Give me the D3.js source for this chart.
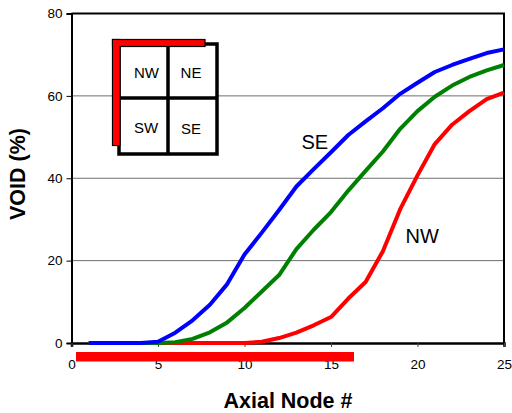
<!DOCTYPE html>
<html>
<head>
<meta charset="utf-8">
<script src="https://cdn.jsdelivr.net/npm/d3@7"></script>
<style>
  body { margin: 0; background: #fff; }
  text { font-family: Arial, "Liberation Sans", sans-serif; }
</style>
</head>
<body>
<div id="chart"></div>
<script>
// axial nodes 1..25
const nodes = d3.range(1, 26);
const seVoid = [0, 0, 0, 0, 0.3, 2.5, 5.5, 9.3, 14.3, 21.5, 26.8, 32.3, 38, 42.2, 46.3, 50.5, 53.8, 57, 60.5, 63.2, 65.8, 67.5, 69, 70.4, 71.3];
const midVoid = [0, 0, 0, 0, 0, 0.2, 1, 2.6, 5, 8.5, 12.5, 16.5, 22.8, 27.5, 31.8, 37, 41.8, 46.5, 52, 56.3, 59.8, 62.5, 64.6, 66.2, 67.5];
const nwVoid = [0, 0, 0, 0, 0, 0, 0, 0, 0, 0, 0.3, 1.2, 2.5, 4.3, 6.3, 10.8, 14.8, 22.3, 32.5, 40.7, 48.3, 53, 56.3, 59.2, 60.8];
const xTicks = [0, 5, 10, 15, 20, 25];
const yTicks = [0, 20, 40, 60, 80];
const gridTicks = [20, 40, 60];
const heatedRange = [0.26, 16.33];

const series = [
  {name: 'NW', values: nwVoid, color: '#ff0000'},
  {name: 'mid', values: midVoid, color: '#008000'},
  {name: 'SE', values: seVoid, color: '#0000ff'}
];

const W = 512, H = 413;
const margin = {top: 13.5, right: 8, bottom: 70, left: 71.5};

const svg = d3.select('#chart')
  .append('svg')
  .attr('width', W)
  .attr('height', H);

const x = d3.scaleLinear().domain([0, 25]).range([margin.left, W - margin.right]);
const y = d3.scaleLinear().domain([0, 80]).range([H - margin.bottom, margin.top]);

// gridlines
svg.append('g')
  .selectAll('line')
  .data(gridTicks)
  .join('line')
  .attr('x1', x(0)).attr('x2', x(25))
  .attr('y1', d => y(d)).attr('y2', d => y(d))
  .attr('stroke', '#6e6e6e')
  .attr('stroke-width', 1);

// frame top / right
svg.append('path')
  .attr('d', `M${x(0)},${y(80)}H${x(25)}V${y(0)}`)
  .attr('fill', 'none')
  .attr('stroke', '#000')
  .attr('stroke-width', 2);

// y axis
const yAxis = svg.append('g')
  .attr('transform', `translate(${x(0)},0)`)
  .call(d3.axisLeft(y).tickValues(yTicks).tickSize(5).tickPadding(4));
yAxis.select('.domain').attr('stroke-width', 2);
yAxis.selectAll('text').attr('font-size', 13.5).attr('fill', '#000');

// x axis
const xAxis = svg.append('g')
  .attr('transform', `translate(0,${y(0)})`)
  .call(d3.axisBottom(x).tickValues(xTicks).tickSize(4).tickPadding(12));
xAxis.select('.domain').attr('stroke-width', 2.5);
xAxis.selectAll('.tick line').attr('stroke', '#444');
xAxis.selectAll('text').attr('font-size', 13.5).attr('fill', '#000');

// red bar under the x axis
svg.append('rect')
  .attr('x', x(heatedRange[0]))
  .attr('y', y(0) + 9)
  .attr('width', x(heatedRange[1]) - x(heatedRange[0]))
  .attr('height', 9.5)
  .attr('fill', '#ff0000');

// curves
const line = d3.line()
  .x((d, i) => x(nodes[i]))
  .y(d => y(d));

svg.append('g')
  .selectAll('path')
  .data(series)
  .join('path')
  .attr('d', d => line(d.values))
  .attr('fill', 'none')
  .attr('stroke', d => d.color)
  .attr('stroke-width', 4)
  .attr('stroke-linejoin', 'round');

// curve labels
svg.append('text').attr('x', 301.5).attr('y', 149).attr('font-size', 20).text('SE');
svg.append('text').attr('x', 405.5).attr('y', 242.5).attr('font-size', 20).text('NW');

// inset quadrant map
const inset = svg.append('g').attr('transform', 'translate(119,44)');
inset.append('rect')
  .attr('x', 0).attr('y', 0).attr('width', 98).attr('height', 110)
  .attr('fill', '#fff').attr('stroke', '#000').attr('stroke-width', 3.5);
inset.append('line').attr('x1', 49).attr('x2', 49).attr('y1', 0).attr('y2', 110)
  .attr('stroke', '#000').attr('stroke-width', 3.5);
inset.append('line').attr('x1', 0).attr('x2', 98).attr('y1', 54).attr('y2', 54)
  .attr('stroke', '#000').attr('stroke-width', 3.5);
inset.append('rect')
  .attr('x', 10.5 - 17).attr('y', -4.5).attr('width', 7.5).attr('height', 106)
  .attr('fill', '#ff0000').attr('stroke', '#000').attr('stroke-width', 1.2);
inset.append('rect')
  .attr('x', -6.5).attr('y', -4.5).attr('width', 92.5).attr('height', 7)
  .attr('fill', '#ff0000').attr('stroke', '#000').attr('stroke-width', 1.2);
inset.append('rect')
  .attr('x', -5.9).attr('y', -3.9).attr('width', 6.3).attr('height', 104.8)
  .attr('fill', '#ff0000');

const quads = [
  {t: 'NW', cx: 27.5, cy: 34},
  {t: 'NE', cx: 72, cy: 34},
  {t: 'SW', cx: 27, cy: 89},
  {t: 'SE', cx: 72, cy: 90}
];
inset.selectAll('text.q')
  .data(quads)
  .join('text')
  .attr('class', 'q')
  .attr('x', d => d.cx).attr('y', d => d.cy)
  .attr('text-anchor', 'middle')
  .attr('font-size', 15)
  .text(d => d.t);

// axis titles
svg.append('text')
  .attr('x', 288).attr('y', 408)
  .attr('text-anchor', 'middle')
  .attr('font-size', 21.5).attr('font-weight', 'bold')
  .text('Axial Node #');
svg.append('text')
  .attr('transform', 'translate(25,174) rotate(-90)')
  .attr('text-anchor', 'middle')
  .attr('font-size', 21.5).attr('font-weight', 'bold')
  .text('VOID (%)');
</script>
</body>
</html>
